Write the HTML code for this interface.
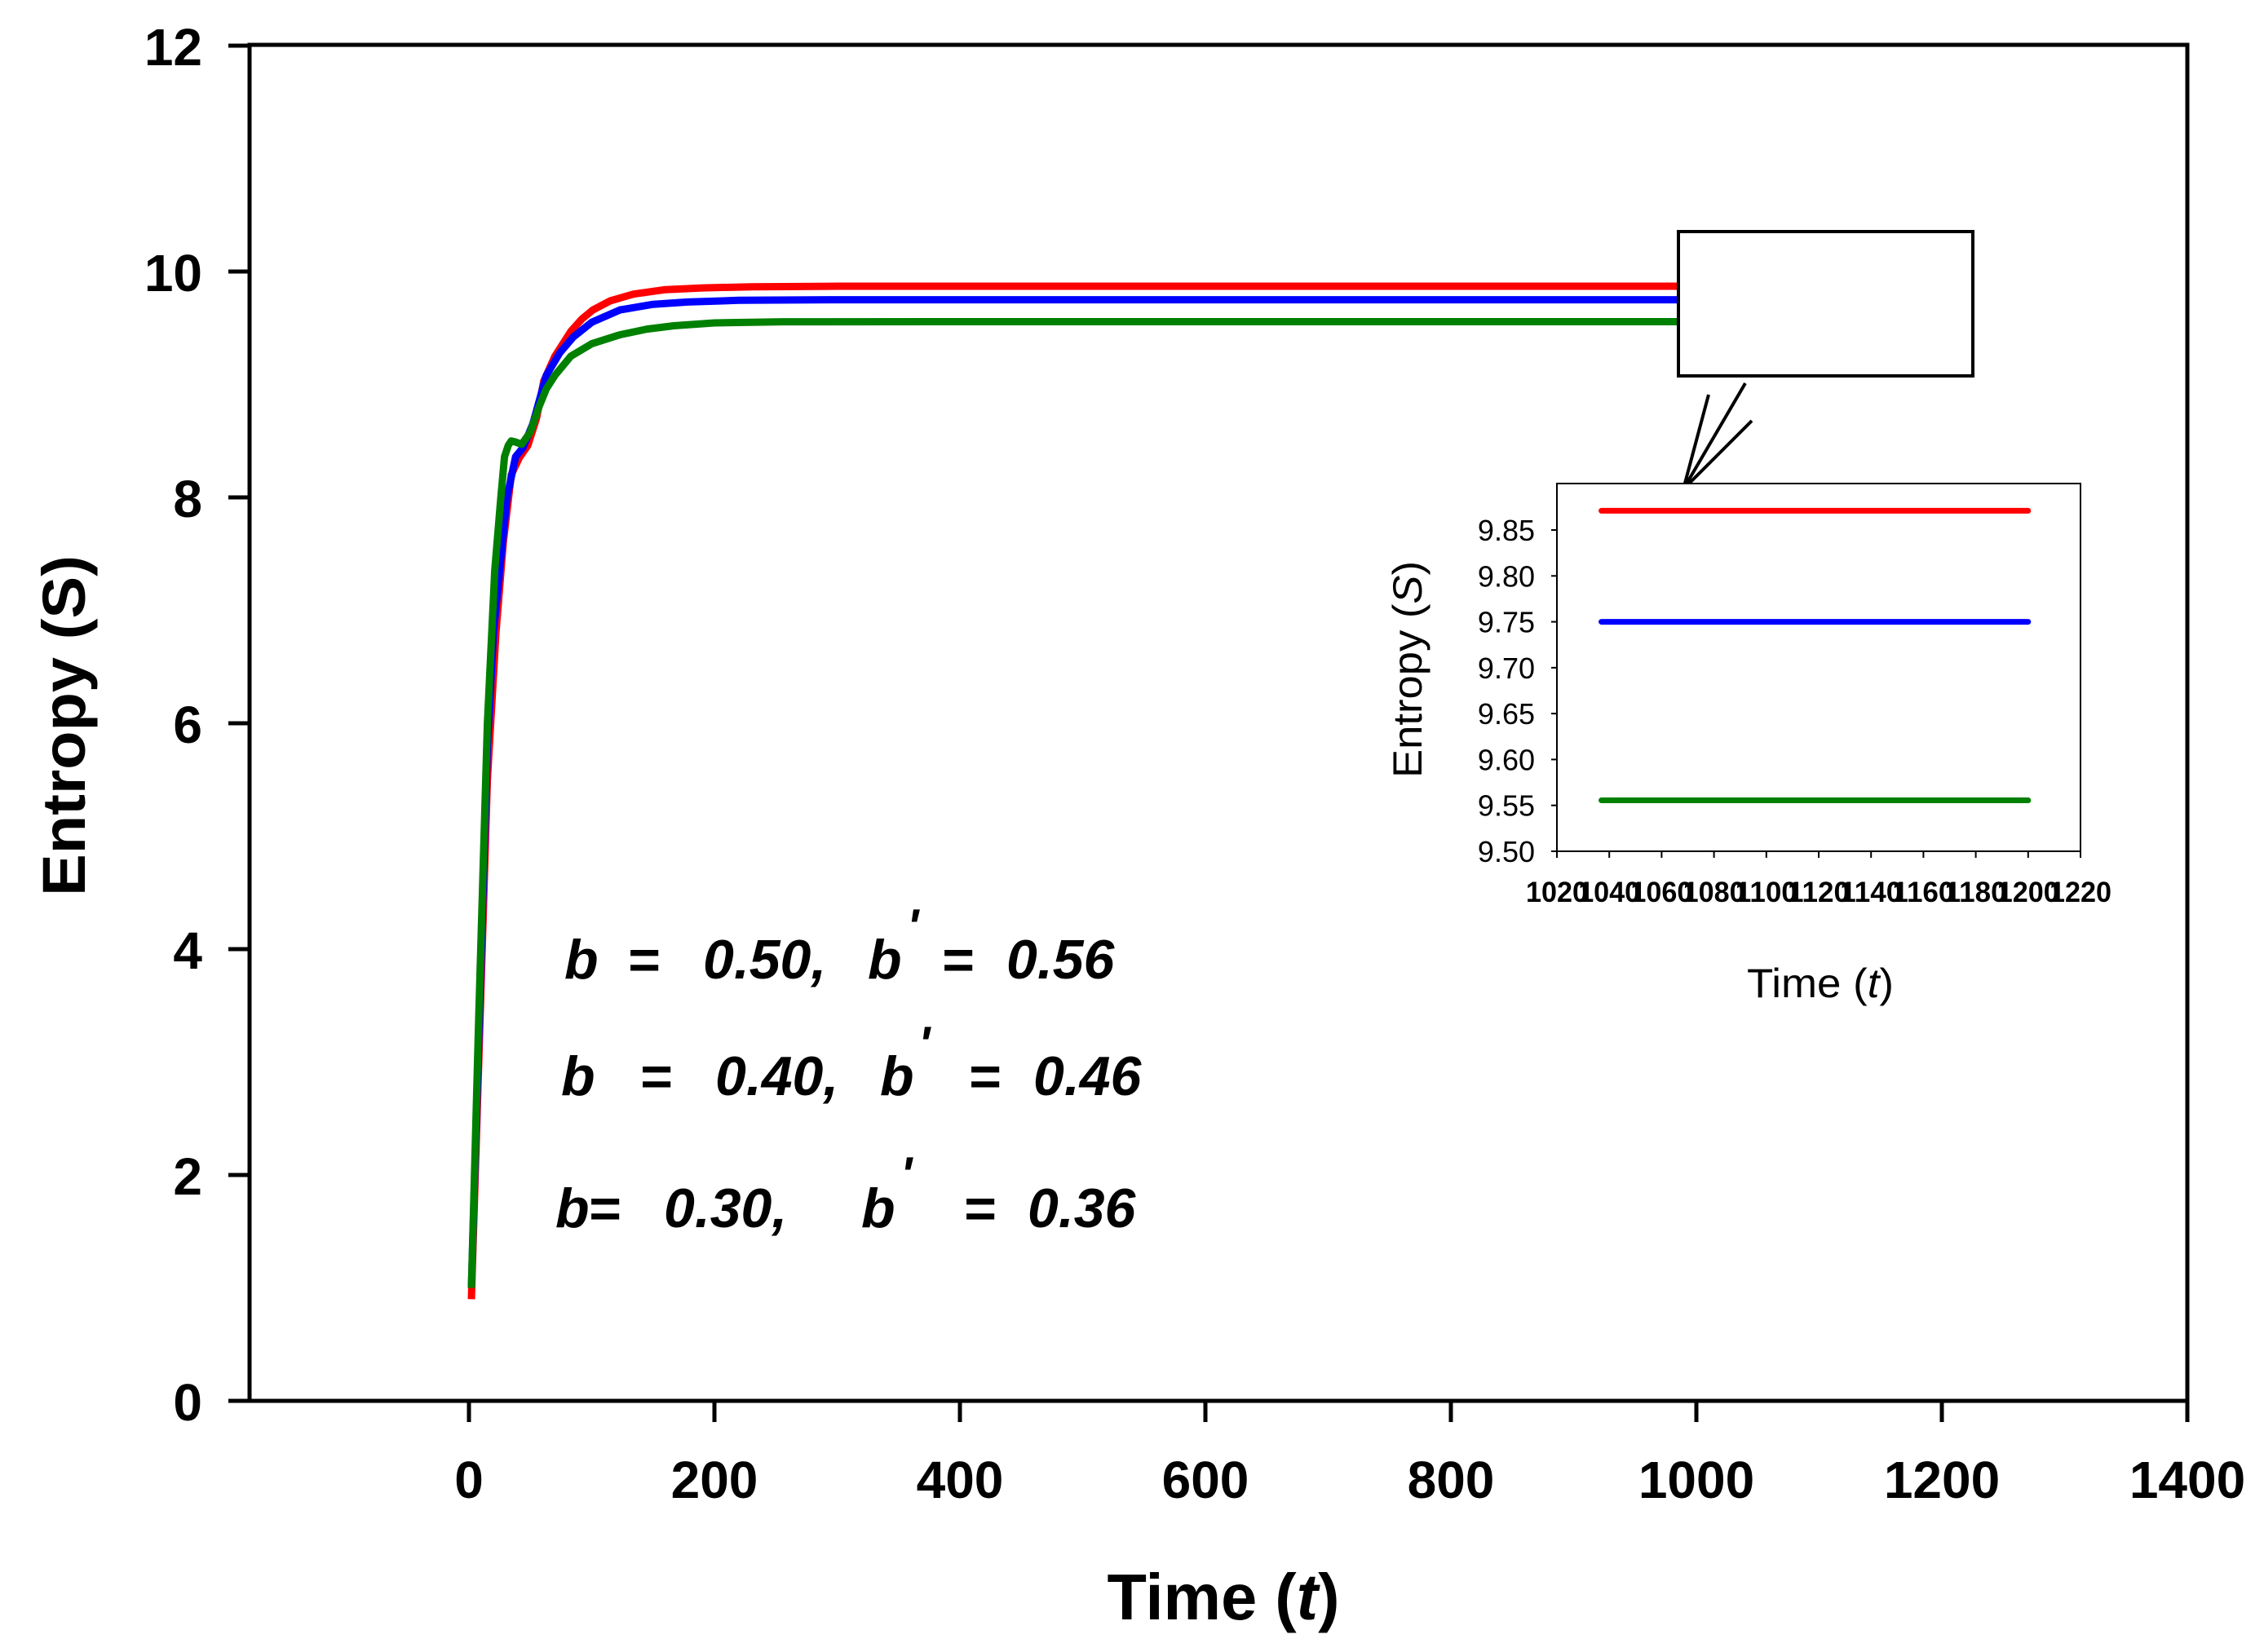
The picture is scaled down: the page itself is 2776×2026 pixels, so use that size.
<!DOCTYPE html>
<html><head><meta charset="utf-8"><style>
html,body{margin:0;padding:0;background:#fff;}
svg{display:block;font-family:"Liberation Sans",Arial,sans-serif;}
</style></head><body>
<svg id="chart" width="2776" height="2026" viewBox="0 0 2776 2026" xmlns="http://www.w3.org/2000/svg">
<g id="main"></g>
<g id="inset"></g>
</svg>
<script>
// ---- main chart data ----
const xTicks = [0, 200, 400, 600, 800, 1000, 1200, 1400];
const yTicks = [0, 2, 4, 6, 8, 10, 12];
const seriesNames = ['b-0.50', 'b-0.40', 'b-0.30'];
const seriesColors = ['#ff0000', '#0000ff', '#008000'];
const redT = [2, 8, 15, 22, 28, 34.5, 41, 48, 55, 61, 70, 83, 92, 101, 115, 134, 160, 190, 230, 300, 500, 988];
const redS = [0.9, 3.0, 5.5, 6.8, 7.6, 8.2, 8.35, 8.46, 8.7, 9.03, 9.25, 9.47, 9.58, 9.66, 9.74, 9.8, 9.84, 9.855, 9.865, 9.87, 9.87, 9.87];
const blueT = [2, 8, 15, 20, 25, 31, 38, 44, 52, 63, 74, 85, 100, 123, 150, 178, 220, 300, 500, 988];
const blueS = [1.0, 3.2, 5.8, 6.8, 7.35, 8.0, 8.36, 8.44, 8.65, 9.08, 9.28, 9.42, 9.55, 9.66, 9.71, 9.73, 9.745, 9.75, 9.75, 9.75];
const greenT = [2, 8, 15, 21, 26, 29, 32, 34.5, 38, 43, 50, 57, 63, 70, 83, 100, 123, 145, 167, 200, 256, 400, 988];
const greenS = [1.0, 3.4, 6.0, 7.35, 8.0, 8.36, 8.46, 8.5, 8.49, 8.47, 8.58, 8.8, 8.96, 9.08, 9.25, 9.36, 9.44, 9.49, 9.52, 9.545, 9.555, 9.556, 9.556];
// ---- inset data ----
const insetXTicks = [1020, 1040, 1060, 1080, 1100, 1120, 1140, 1160, 1180, 1200, 1220];
const insetYTicks = ['9.50', '9.55', '9.60', '9.65', '9.70', '9.75', '9.80', '9.85'];
const insetStart = 1037, insetEnd = 1200;
const insetLevels = [9.871, 9.75, 9.5555];

const NS = 'http://www.w3.org/2000/svg';
function mk(parent, tag, attrs, text) {
  const e = document.createElementNS(NS, tag);
  for (const k in attrs) e.setAttribute(k, attrs[k]);
  if (text !== undefined) e.textContent = text;
  parent.appendChild(e);
  return e;
}
const X0 = 575, XPER = 301 / 200, Y0 = 1718, YPER = 138.5;
const sx = t => X0 + t * XPER;
const sy = v => Y0 - v * YPER;
const L = 306, R = 2682, T = 55;
const g = document.getElementById('main');

let e;
e = mk(g, 'rect', {x: L, y: T, width: R - L, height: Y0 - T, fill: 'none', stroke: '#000', 'stroke-width': 5});



yTicks.forEach(v => {
  const y = sy(v);
  e = mk(g, 'line', {x1: L - 26, x2: L, y1: y, y2: y, stroke: '#000', 'stroke-width': 5});
  
  
  e = mk(g, 'text', {x: 248, y: y + 24, 'text-anchor': 'end', 'font-size': 64, 'font-weight': 'bold'}, String(v));
  
  
});
xTicks.forEach(v => {
  const x = sx(v);
  e = mk(g, 'line', {x1: x, x2: x, y1: Y0, y2: Y0 + 26, stroke: '#000', 'stroke-width': 5});
  
  
  e = mk(g, 'text', {x: x, y: 1837, 'text-anchor': 'middle', 'font-size': 64, 'font-weight': 'bold'}, String(v));
  
  
});
e = mk(g, 'text', {x: 0, y: 0, transform: 'translate(104,890) rotate(-90)', 'text-anchor': 'middle', 'font-size': 74, 'font-weight': 'bold', textLength: 418, lengthAdjust: 'spacingAndGlyphs'}, 'Entropy (S)');


e = mk(g, 'text', {x: 1500, y: 1986, 'text-anchor': 'middle', 'font-size': 80, 'font-weight': 'bold', textLength: 285, lengthAdjust: 'spacingAndGlyphs'});


e.innerHTML = 'Time (<tspan font-style="italic">t</tspan>)';

const allT = [redT, blueT, greenT], allS = [redS, blueS, greenS];
allT.forEach((ts, i) => {
  const d = ts.map((t, j) => (j ? 'L' : 'M') + sx(t).toFixed(1) + ',' + sy(allS[i][j]).toFixed(1)).join(' ');
  e = mk(g, 'path', {d: d, fill: 'none', stroke: seriesColors[i], 'stroke-width': 9, 'stroke-linejoin': 'round'});
  
  
});

const ann = [
  {y: 1200, parts: [[692,'b'],[769,'='],[862,'0.50,'],[1064,'b'],[1154,'='],[1234,'0.56']], px: 1112, py: 1114},
  {y: 1343, parts: [[688,'b'],[784,'='],[877,'0.40,'],[1079,'b'],[1187,'='],[1267,'0.46']], px: 1126, py: 1258},
  {y: 1505, parts: [[681,'b'],[721,'='],[814,'0.30,'],[1056,'b'],[1181,'='],[1260,'0.36']], px: 1104, py: 1418}
];
ann.forEach(a => {
  const t = mk(g, 'text', {'font-size': 68, 'font-weight': 'bold', 'font-style': 'italic'});
  
  
  a.parts.forEach(p => mk(t, 'tspan', {x: p[0], y: a.y}, p[1]));
  e = mk(g, 'text', {x: a.px, y: a.py + 43, 'font-size': 60, 'font-weight': 'bold', 'font-style': 'italic'}, "'");
  
  
});

e = mk(g, 'rect', {x: 2058, y: 284, width: 361, height: 177, fill: '#fff', stroke: '#000', 'stroke-width': 4});


e = mk(g, 'path', {d: 'M2095,484 L2064,600 M2140,470 L2064,600 M2148,516 L2064,600', stroke: '#000', 'stroke-width': 4, fill: 'none'});



const gi = document.getElementById('inset');
const IL = 1909, IR = 2551, IT = 593, IB = 1044;
const ix = t => IL + (t - 1020) * (IR - IL) / 200;
const iy = v => IB - (v - 9.5) * (IB - 650) / 0.35;
e = mk(gi, 'rect', {x: IL, y: IT, width: IR - IL, height: IB - IT, fill: '#fff', stroke: '#000', 'stroke-width': 2});


insetYTicks.forEach(s => {
  const y = iy(parseFloat(s));
  e = mk(gi, 'line', {x1: IL - 7, x2: IL, y1: y, y2: y, stroke: '#000', 'stroke-width': 2});
  
  
  e = mk(gi, 'text', {x: 1882, y: y + 13, 'text-anchor': 'end', 'font-size': 36}, s);
  
  
});
insetXTicks.forEach(v => {
  const x = ix(v);
  e = mk(gi, 'line', {x1: x, x2: x, y1: IB, y2: IB + 8, stroke: '#000', 'stroke-width': 2});
  
  
  e = mk(gi, 'text', {x: x, y: 1106, 'text-anchor': 'middle', 'font-size': 35, 'font-weight': 'bold', textLength: 76, lengthAdjust: 'spacingAndGlyphs'}, String(v));
  
  
});
insetLevels.forEach((v, i) => {
  e = mk(gi, 'line', {x1: ix(insetStart), x2: ix(insetEnd), y1: iy(v), y2: iy(v), stroke: seriesColors[i], 'stroke-width': 7, 'stroke-linecap': 'round'});
  
  
});
e = mk(gi, 'text', {x: 0, y: 0, transform: 'translate(1743,821) rotate(-90)', 'text-anchor': 'middle', 'font-size': 50, textLength: 266, lengthAdjust: 'spacingAndGlyphs'});


e.innerHTML = 'Entropy (<tspan font-style="italic">S</tspan>)';
e = mk(gi, 'text', {x: 2232, y: 1223, 'text-anchor': 'middle', 'font-size': 50, textLength: 180, lengthAdjust: 'spacingAndGlyphs'});


e.innerHTML = 'Time (<tspan font-style="italic">t</tspan>)';
</script>
</body></html>
